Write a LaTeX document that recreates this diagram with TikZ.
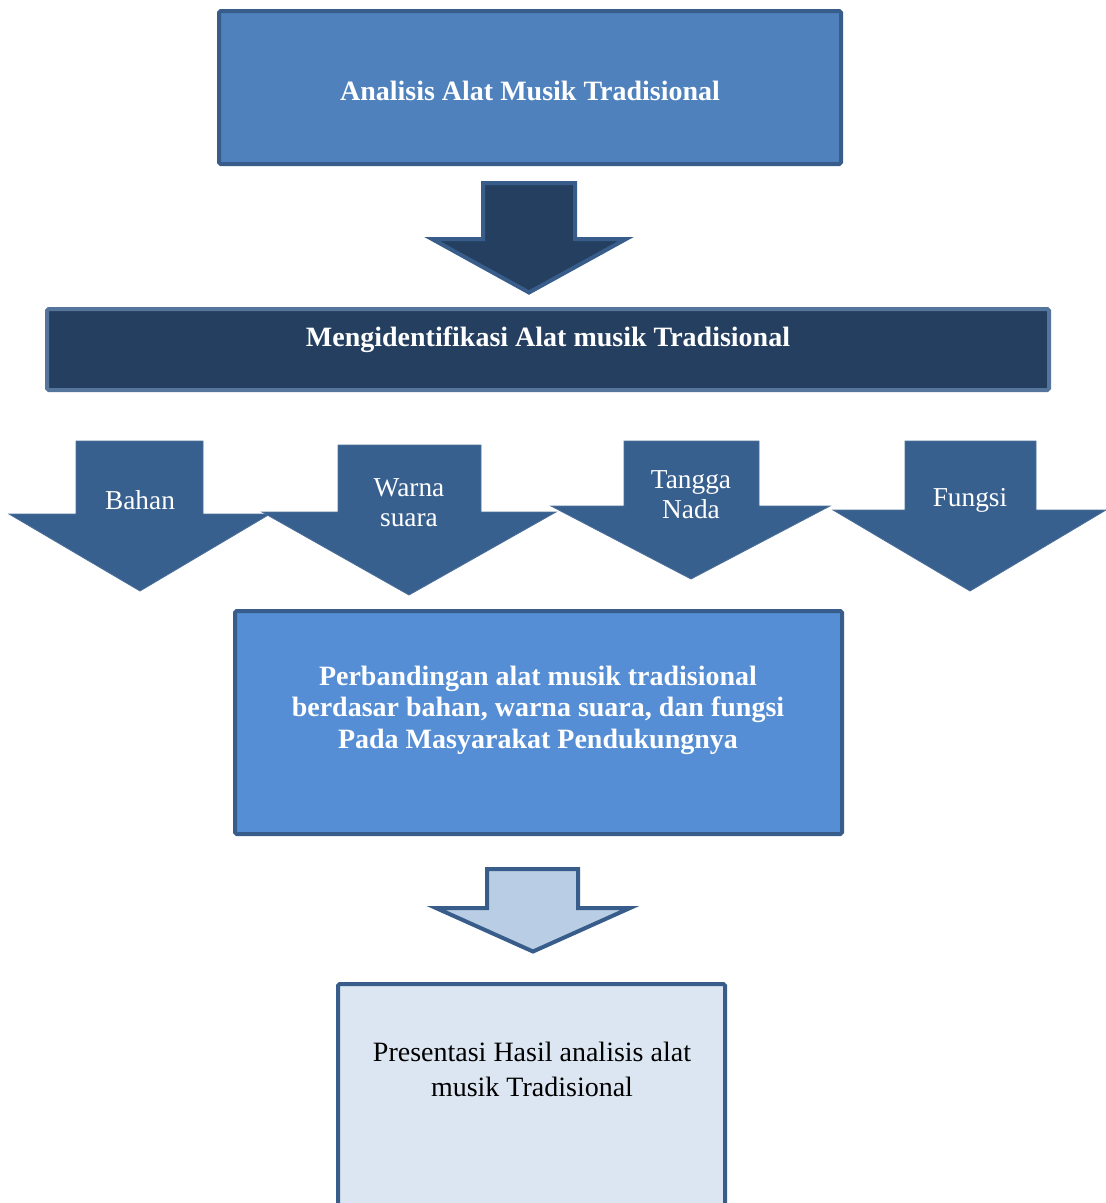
\documentclass[tikz,border=0pt]{standalone}
\usepackage{fontspec}
\setmainfont{Liberation Serif}
\definecolor{bord}{HTML}{385D8A}
\definecolor{fillA}{HTML}{4F81BD}
\definecolor{darkB}{HTML}{243F60}
\definecolor{midC}{HTML}{38608F}
\definecolor{fillD}{HTML}{558ED5}
\definecolor{lightE}{HTML}{B9CDE5}
\definecolor{paleF}{HTML}{DCE6F2}
\tikzset{
  box/.style={draw=bord, line width=3pt, rounded corners=1.2pt, inner sep=0pt},
  blockarrow/.style={line width=3pt, line join=miter, miter limit=10},
  flatarrow/.style={fill=midC, draw=midC!90!white, line width=0.6pt, line join=miter},
  boldtxt/.style={text=white, font=\fontsize{21}{23.6}\selectfont\bfseries, align=center},
  armtxt/.style={text=white, font=\fontsize{20.5}{22.5}\selectfont, align=center},
  plaintxt/.style={text=black, font=\fontsize{21}{26.2}\selectfont, align=center}
}
\begin{document}
\begin{tikzpicture}[x=0.75pt,y=-0.75pt]
\useasboundingbox (0,0) rectangle (1106,1203);
\clip (0,0) rectangle (1106,1203);

% Box 1
\node[box, fill=fillA, minimum width=466.5pt, minimum height=114.75pt] (b1) at (530,87.5) {};
\node[boldtxt] (t1) at (530,90.5) {Analisis Alat Musik Tradisional};

% Arrow 1
\draw[blockarrow, fill=darkB, draw=bord]
  (483,183) coordinate (a1top) -- (575,183) -- (575,239) -- (626,239) -- (529,292.5) coordinate (a1tip)
  -- (432,239) -- (483,239) -- cycle;

% Box 2
\node[box, fill=darkB, draw=bord!85!white, minimum width=751.5pt, minimum height=60.75pt] (b2) at (548,349.5) {};
\node[boldtxt] (t2) at (548,339.5) {Mengidentifikasi Alat musik Tradisional};

% Four arrows
\draw[flatarrow] (76,441) -- (203,441) -- (203,514) -- (270,514) -- (140,591) -- (9,514) -- (76,514) -- cycle;
\node[armtxt] (l1) at (140,500) {Bahan};

\draw[flatarrow] (338,445) -- (481,445) -- (481,512) -- (556,512) -- (409,595) -- (262,512) -- (338,512) -- cycle;
\node[armtxt] (l2) at (409,503) {Warna\\suara};

\draw[flatarrow] (624,441) -- (759,441) -- (759,506) -- (830,506) -- (691,579) -- (551,506) -- (624,506) -- cycle;
\node[armtxt] (l3) at (691,495) {Tangga\\Nada};

\draw[flatarrow] (905,441) -- (1036,441) -- (1036,510) -- (1106,510) -- (970,591) -- (833,510) -- (905,510) -- cycle;
\node[armtxt] (l4) at (970,500) {Fungsi};

% Box 3
\node[box, fill=fillD, minimum width=455.25pt, minimum height=167.25pt] (b3) at (538.5,722.5) {};
\node[boldtxt] (t3) at (538,710) {Perbandingan alat musik tradisional\\berdasar bahan, warna suara, dan fungsi\\Pada Masyarakat Pendukungnya};

% Arrow 4
\draw[blockarrow, fill=lightE, draw=bord]
  (487,869) -- (578,869) -- (578,908) -- (630,908) -- (533,951.5) -- (436,908) -- (487,908) -- cycle;

% Box 4
\node[box, fill=paleF, minimum width=290.25pt, minimum height=173.25pt] (b4) at (531.5,1099.5) {};
\node[plaintxt] (t4) at (532,1069) {Presentasi Hasil analisis alat\\musik Tradisional};
\end{tikzpicture}
\end{document}
